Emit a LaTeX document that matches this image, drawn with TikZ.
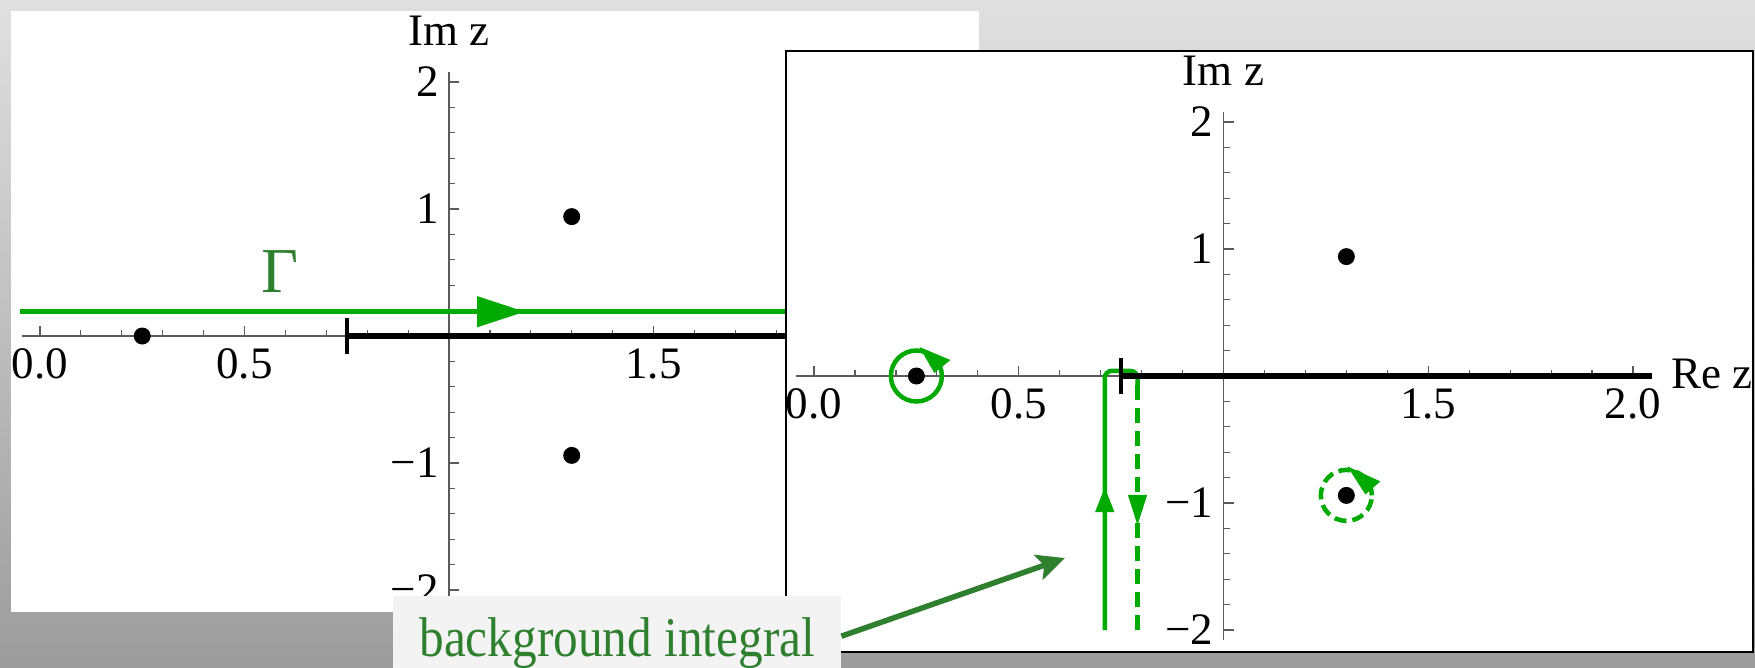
\documentclass[tikz,border=0pt]{standalone}
\usepackage{fontspec}
\usepackage{graphicx}
\setmainfont{Liberation Serif}
\usetikzlibrary{arrows.meta}
\definecolor{gbright}{RGB}{0,170,0}
\definecolor{gdark}{RGB}{46,128,46}
\definecolor{axisgray}{RGB}{90,90,90}
\definecolor{bgtop}{RGB}{224,224,224}
\definecolor{bgbot}{RGB}{156,156,156}
\definecolor{boxgray}{RGB}{243,243,243}
\tikzset{
  axisline/.style={line width=1.5pt, draw=axisgray},
  tickline/.style={line width=1.2pt, draw=axisgray},
  cutline/.style={line width=5.5pt, draw=black},
  cuttick/.style={line width=4.5pt, draw=black},
  pole/.style={circle, fill=black, inner sep=0pt, minimum size=17pt},
  lab/.style={font=\fontsize{45}{45}\selectfont, inner sep=0pt, text=black},
  contour/.style={draw=gbright, line width=4.5pt},
  dashcontour/.style={draw=gbright, line width=4.5pt, dash pattern=on 15pt off 8pt},
  dashcircle/.style={draw=gbright, line width=4.5pt, dash pattern=on 12pt off 6pt},
  callout/.style={draw=gdark, line width=5.5pt},
  panelbox/.style={fill=white},
}
% axes, ticks and labels of one plot (plot units)
\newcommand\myaxes[1]{%
  \draw[axisline] (-0.045,0) -- (2.046,0);
  \draw[axisline] (1,-2.08) -- (1,2.08);
  \foreach \i in {0,...,20} {\draw[tickline] (\i/10,0) -- ++(0,6pt);}
  \foreach \i in {0,1,3,4} {\draw[tickline] (\i/2,0) -- ++(0,10pt);}
  \foreach \i in {-10,...,10} {\draw[tickline] (1,\i/5) -- ++(6pt,0);}
  \foreach \i in {-2,-1,1,2} {\draw[tickline] (1,\i) -- ++(10pt,0);}
  \node[lab, anchor=base, yshift=-42pt] (#1xa) at (0,0) {0.0};
  \node[lab, anchor=base, yshift=-42pt] (#1xb) at (0.5,0) {0.5};
  \node[lab, anchor=base, yshift=-42pt] (#1xc) at (1.5,0) {1.5};
  \node[lab, anchor=base, yshift=-42pt] (#1xd) at (2,0) {2.0};
  \node[lab, anchor=east, xshift=-10pt] (#1ya) at (1,2) {2};
  \node[lab, anchor=east, xshift=-10pt] (#1yb) at (1,1) {1};
  \node[lab, anchor=east, xshift=-10pt] (#1yc) at (1,-1) {−1};
  \node[lab, anchor=east, xshift=-10pt] (#1yd) at (1,-2) {−2};
  \node[lab, anchor=base] (#1im) at (1,2.284) {Im z};
  \node[lab, anchor=base west, xshift=19pt, yshift=-12pt] (#1re) at (2.046,0) {Re z};
}
\newcommand\mycut{%
  \draw[cutline] (0.75,0) -- (2.046,0);
  \draw[cuttick] (0.75,0) ++(0,-18pt) -- ++(0,36pt);
}
\newcommand\mypoles[1]{%
  \node[pole] (#1pa) at (0.25,0) {};
  \node[pole] (#1pb) at (1.3,0.94) {};
  \node[pole] (#1pc) at (1.3,-0.94) {};
}
\begin{document}
\begin{tikzpicture}[x=1pt,y=-1pt]
\useasboundingbox (0,0) rectangle (1755,667);
\clip (0,0) rectangle (1755,667);
\shade[top color=bgtop, bottom color=bgbot] (0,0) rectangle (1755,667);
% left panel
\fill[panelbox] (11,11) rectangle (979,612);
\begin{scope}[shift={(40,336)}]
  \begin{scope}[x=409pt,y=127pt]
    \myaxes{L}
    \mycut
    \mypoles{L}
  \end{scope}
\end{scope}
\draw[contour] (20,311.7) -- (800,311.7);
\coordinate (gback) at (477,311.7);
\coordinate (gtip) at (525,311.7);
\draw[contour, -{Triangle[length=48pt,width=30pt]}] (gback) -- (gtip);
\node[font=\fontsize{64}{64}\selectfont, text=gdark, anchor=base, inner sep=0pt] (gamma) at (280,292) {Γ};
% right panel
\draw[panelbox, draw=black, line width=2.5pt] (786,51) rectangle (1753,652);
\begin{scope}[shift={(814,376)}]
  \begin{scope}[x=409.5pt,y=127pt]
    \myaxes{R}
    % background integral contour
    \draw[contour, rounded corners=7pt] (0.71,-2.0) -- (0.71,0.04) -- (0.79,0.04) -- (0.79,-0.07);
    \draw[dashcontour] (0.79,-0.07) -- (0.79,-2.0);
    \coordinate (ua) at (0.71,-1.07);
    \coordinate (ub) at (0.71,-0.874);
    \draw[contour, -{Triangle[length=25pt,width=18pt]}] (ua) -- (ub);
    \coordinate (da) at (0.79,-0.937);
    \coordinate (db) at (0.79,-1.18);
    \draw[contour, -{Triangle[length=31pt,width=18pt]}] (da) -- (db);
    \mycut
    % residue circles
    \draw[contour] (0.25,0) circle[radius=25.5pt];
    \begin{scope}[shift={(0.25,0)}]
      \fill[gbright] (3pt,29pt) -- (34pt,16pt) -- (18pt,3pt) -- cycle;
    \end{scope}
    \draw[dashcircle] (1.3,-0.94) circle[radius=25.5pt];
    \begin{scope}[shift={(1.3,-0.94)}]
      \fill[gbright] (1pt,29pt) -- (34pt,14pt) -- (19pt,1pt) -- cycle;
    \end{scope}
    \mypoles{R}
  \end{scope}
\end{scope}
% label box and callout
\node[fill=boxgray, minimum width=448pt, minimum height=94pt, anchor=north west, inner sep=0pt,
      font=\fontsize{56}{56}\selectfont, text=gdark] (lbl) at (393,596) {\scalebox{0.88}[1]{background integral}};
\coordinate (ctail) at ([yshift=7pt]lbl.east);
\coordinate (ctip) at (1065,558);
\draw[callout, -{Stealth[length=28pt,width=26pt,inset=6pt]}] (ctail) -- (ctip);
\end{tikzpicture}
\end{document}
